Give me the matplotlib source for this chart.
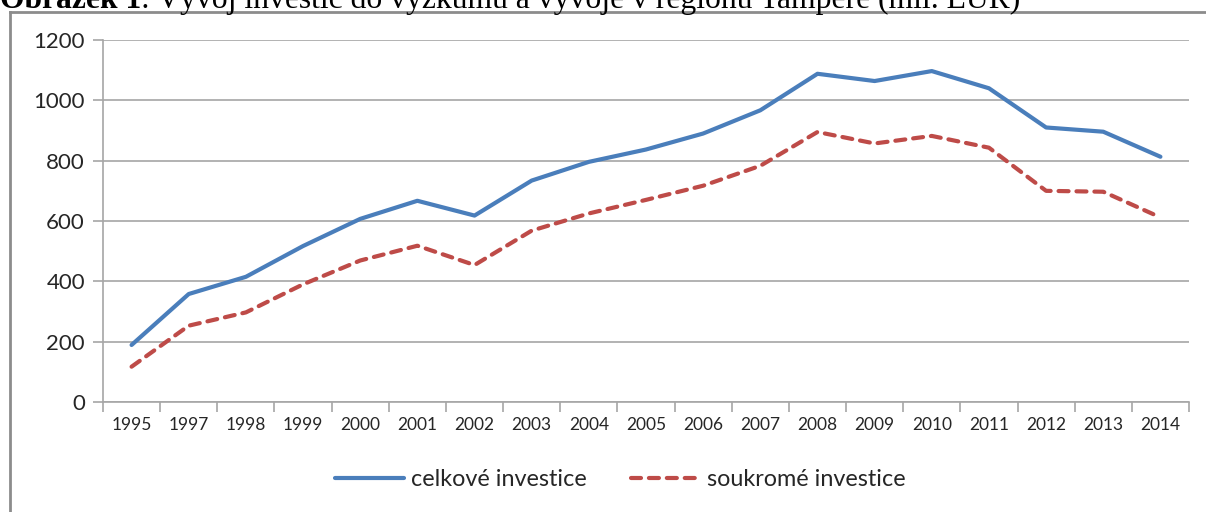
import matplotlib.pyplot as plt
from matplotlib.lines import Line2D

years = ["1995", "1997", "1998", "1999", "2000", "2001", "2002", "2003", "2004", "2005",
         "2006", "2007", "2008", "2009", "2010", "2011", "2012", "2013", "2014"]
celkove = [189, 358, 415, 517, 607, 667, 618, 734, 796, 837,
           890, 967, 1088, 1064, 1097, 1040, 910, 896, 813]
soukrome = [117, 253, 297, 390, 469, 518, 454, 568, 625, 670,
            717, 783, 895, 857, 882, 843, 700, 697, 612]
yticks = [0, 200, 400, 600, 800, 1000, 1200]

BLUE = "#4A7EBB"
RED = "#BE4B48"
GRID = "#A6A6A6"
TEXT = "#262626"

fig = plt.figure(figsize=(12.06, 5.12), dpi=100)
ax = fig.add_axes([103 / 1206, 110 / 512, 1086 / 1206, 362 / 512])

x = list(range(len(years)))
ax.plot(x, celkove, color=BLUE, lw=3.0, solid_capstyle="round", label="celkové investice")
ax.plot(x, soukrome, color=RED, lw=3.0, dashes=(2.4, 1.9), dash_capstyle="round",
        label="soukromé investice")

ax.set_xlim(-0.5, len(years) - 0.5)
ax.set_ylim(0, 1200)
ax.set_yticks(yticks)
ax.set_yticklabels([str(v) for v in yticks])
ax.yaxis.grid(True, color=GRID, lw=1.2)
ax.set_axisbelow(True)

# Excel style category axis: ticks between categories, labels centred
ax.set_xticks([i - 0.5 for i in range(len(years) + 1)])
ax.set_xticklabels([])
ax.set_xticks(x, minor=True)
ax.set_xticklabels(years, minor=True)
ax.tick_params(axis="x", which="major", length=7, color=GRID, width=1.2, direction="out")
ax.tick_params(axis="x", which="minor", length=0, pad=11, labelsize=12.5, labelcolor=TEXT)
ax.tick_params(axis="y", length=7, color=GRID, width=1.2, pad=6, labelsize=16, labelcolor=TEXT)
for lab in ax.get_xticklabels(minor=True) + ax.get_yticklabels():
    lab.set_fontfamily("Lato")

for side in ["top", "right"]:
    ax.spines[side].set_visible(False)
for side in ["left", "bottom"]:
    ax.spines[side].set_color(GRID)
    ax.spines[side].set_linewidth(1.2)

leg = fig.legend(loc="center", bbox_to_anchor=(620 / 1206, 1 - 480 / 512), ncol=2,
                 frameon=False, handlelength=2.95, columnspacing=1.9, handletextpad=0.3,
                 prop={"family": "Lato", "size": 16.8})
for t in leg.get_texts():
    t.set_color(TEXT)

# outer frame of the chart object (left and top edges)
fig.add_artist(Line2D([10 / 1206, 10 / 1206], [0, 1 - 12 / 512], transform=fig.transFigure,
                      color="#8C8C8C", lw=2))
fig.add_artist(Line2D([10 / 1206, 1], [1 - 12 / 512, 1 - 12 / 512], transform=fig.transFigure,
                      color="#8C8C8C", lw=2))

# caption above, cut off by the top edge
fig.canvas.draw()
t1 = fig.text(0.0, 1 - 8 / 512, "Obrázek 1", family="Liberation Serif", weight="bold",
              size=22.8, va="baseline", ha="left", color="black")
bb = t1.get_window_extent(fig.canvas.get_renderer())
fig.text(bb.x1 / 1206, 1 - 8 / 512, ": Vývoj investic do výzkumu a vývoje v regionu Tampere (mil. EUR)",
         family="Liberation Serif", size=22.8, va="baseline", ha="left", color="black")

fig.savefig("out.png", dpi=100)
